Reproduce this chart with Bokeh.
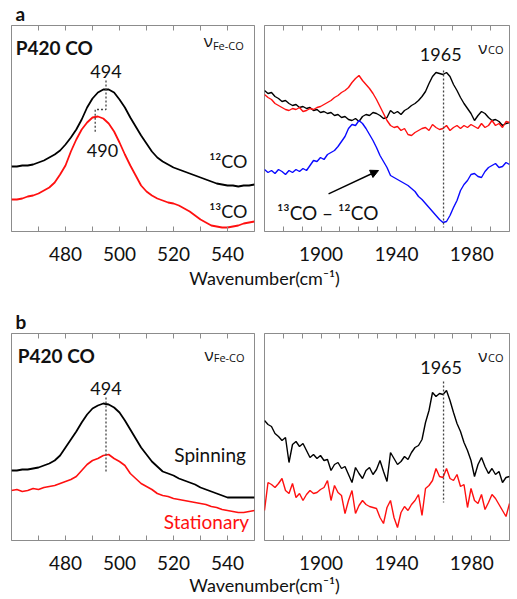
import numpy as np
from bokeh.plotting import figure
from bokeh.models import Range1d, FixedTicker, LinearAxis, Label, Arrow, NormalHead
from bokeh.layouts import column, row
from bokeh.embed import file_html
from bokeh.resources import INLINE

# ---------------- data ----------------
# Fe-CO region (cm-1), sampled every 2 cm-1
fe_wavenumber = list(range(460, 552, 2))
fe_12co = [65, 65, 66, 66, 67, 69, 71, 74, 77, 81,
           87, 94, 102, 112, 124, 133, 139, 142, 142, 139,
           132, 124, 114, 105, 96, 88, 80, 74, 70, 67,
           64, 62, 60, 58, 56, 54, 52, 50, 48, 47,
           46, 46, 45, 46, 46, 47]
fe_13co = [32, 32, 33, 35, 36, 38, 41, 44, 49, 57,
           66, 80, 92, 102, 109, 114, 115, 113, 108, 100,
           89, 77, 66, 56, 46, 40, 36, 33, 31, 29,
           28, 26, 23, 20, 16, 12, 9, 6, 5, 4,
           4, 5, 6, 8, 9, 10]
fe_spinning = [70, 70, 71, 71, 72, 73, 75, 77, 80, 85,
               93, 101, 109, 118, 126, 132, 135, 137, 136, 133,
               128, 120, 111, 102, 93, 86, 79, 74, 69, 67,
               65, 62, 60, 58, 56, 53, 51, 49, 47, 45,
               43, 43, 43, 43, 43, 43]
fe_stationary = [50, 51, 49, 50, 52, 51, 53, 54, 55, 57,
                 59, 61, 64, 70, 76, 80, 82, 85, 86, 82,
                 79, 75, 67, 62, 57, 54, 51, 47, 45, 44,
                 42, 41, 40, 39, 38, 37, 36, 34, 33, 31,
                 30, 29, 28, 28, 29, 30]

# C-O region (cm-1), 71 evenly spaced samples 1870-2000
co_wavenumber = np.linspace(1870, 2000, 71)
co_12co = [141, 138, 139, 135, 133, 130, 131, 128, 126, 127,
           124, 125, 123, 124, 121, 122, 119, 120, 118, 119,
           116, 117, 114, 115, 112, 111, 113, 110, 115, 117,
           116, 119, 118, 116, 113, 114, 121, 118, 120, 117,
           121, 123, 126, 128, 131, 135, 140, 148, 155, 159,
           158, 157, 159, 155, 147, 141, 134, 128, 123, 118,
           111, 116, 120, 118, 114, 111, 112, 110, 106, 108, 109]
co_13co = [137, 134, 132, 128, 126, 124, 122, 121, 123, 122,
           124, 120, 121, 123, 122, 124, 125, 127, 129, 131,
           134, 136, 139, 141, 144, 149, 153, 156, 151, 147,
           143, 138, 132, 125, 118, 111, 106, 104, 105, 101,
           103, 97, 96, 99, 101, 103, 104, 101, 107, 104,
           102, 103, 106, 101, 104, 106, 103, 106, 104, 107,
           105, 103, 108, 104, 106, 111, 106, 108, 104, 110, 109]
co_difference = [62, 59, 61, 58, 62, 60, 57, 61, 59, 62,
                 60, 63, 61, 66, 71, 70, 74, 72, 77, 79,
                 81, 85, 90, 95, 103, 107, 106, 111, 108, 103,
                 97, 91, 84, 76, 70, 64, 56, 54, 52, 50,
                 48, 46, 43, 40, 35, 32, 28, 24, 20, 16,
                 12, 9, 10, 16, 24, 31, 41, 47, 51, 57,
                 58, 55, 54, 60, 64, 66, 68, 64, 65, 69, 67]
co_spinning = [120, 116, 114, 107, 104, 100, 103, 78, 96, 99,
               94, 97, 90, 83, 86, 82, 85, 80, 81, 70,
               76, 78, 72, 74, 66, 58, 73, 67, 62, 70,
               73, 66, 71, 80, 69, 59, 88, 82, 76, 79,
               84, 81, 88, 93, 95, 101, 118, 130, 148, 144,
               147, 146, 150, 140, 128, 117, 109, 98, 90, 80,
               64, 76, 83, 74, 67, 72, 66, 69, 58, 63, 64]
co_stationary = [30, 58, 56, 53, 57, 62, 50, 47, 57, 43,
                 47, 40, 46, 50, 47, 48, 51, 53, 60, 40,
                 55, 48, 45, 27, 40, 50, 27, 35, 40, 36,
                 34, 33, 32, 23, 17, 33, 40, 23, 13, 28,
                 34, 30, 36, 40, 46, 25, 52, 55, 60, 72,
                 64, 63, 72, 62, 60, 66, 54, 56, 33, 52,
                 40, 37, 46, 31, 38, 46, 42, 36, 30, 24, 37]

# peak markers (dotted guide lines)
mark_a_fe_x = [495, 495, 491, 491]
mark_a_fe_y = [151, 122, 122, 98]
mark_a_co_x = [1965, 1965]
mark_a_co_y = [161, 4]
mark_b_fe_x = [495, 495]
mark_b_fe_y = [143, 68]
mark_b_co_x = [1965, 1965]
mark_b_co_y = [159, 38]

# ticks
fe_major = [480, 500, 520, 540]
fe_minor = [470, 490, 510, 530]
fe_top = [470, 480, 490, 500, 510, 520, 530, 540]
co_major = [1900, 1940, 1980]
co_minor = [1880, 1890, 1910, 1920, 1930, 1950, 1960, 1970, 1990]
co_top = [1880, 1890, 1900, 1910, 1920, 1930, 1940, 1950, 1960, 1970, 1980, 1990]

GREY = "#8c8c8c"
TXT = "#111111"
RED = "#ff1010"
BLUE = "#0a0aff"
FONT = "Lato"
W = 516


def panel(xr, ymax, major, minor, top, fw, fh, bl, br, bt, bb):
    p = figure(frame_width=fw, frame_height=fh,
               x_range=Range1d(*xr), y_range=Range1d(0, ymax),
               output_backend="svg", toolbar_location=None,
               x_axis_location=None, y_axis_location=None,
               min_border_left=bl, min_border_right=br,
               min_border_top=bt, min_border_bottom=bb)
    p.xgrid.visible = False
    p.ygrid.visible = False
    p.outline_line_color = GREY
    p.outline_line_width = 1
    p.background_fill_color = "white"
    p.border_fill_color = "white"
    bottom = LinearAxis(ticker=FixedTicker(ticks=major, minor_ticks=minor))
    topax = LinearAxis(ticker=FixedTicker(ticks=[], minor_ticks=top))
    for ax in (bottom, topax):
        ax.axis_line_color = GREY
        ax.major_tick_line_color = GREY
        ax.minor_tick_line_color = GREY
        ax.major_tick_in = 5
        ax.major_tick_out = 0
        ax.minor_tick_in = 5
        ax.minor_tick_out = 0
        ax.major_label_text_font = FONT
        ax.major_label_text_font_size = "19px"
        ax.major_label_text_color = TXT
    bottom.major_label_standoff = 15
    topax.major_label_standoff = 0
    p.add_layout(bottom, "below")
    p.add_layout(topax, "above")
    return p


def lab(p, x, y, text, size="18px", align="center", color=TXT, bold=False, font=FONT):
    p.add_layout(Label(x=x, y=y, text=text, text_font=font, text_font_size=size,
                       text_align=align, text_baseline="middle", text_color=color,
                       text_font_style="bold" if bold else "normal"))


def strip(h):
    s = figure(width=W, height=h, x_range=Range1d(0, W), y_range=Range1d(0, h),
               output_backend="svg", toolbar_location=None,
               x_axis_location=None, y_axis_location=None, min_border=0)
    s.xgrid.visible = False
    s.ygrid.visible = False
    s.outline_line_color = None
    return s


XLABEL = "Wavenumber(cm⁻¹)"

# ---------------- top strip with panel letter ----------------
strip0 = strip(24)
lab(strip0, 15, 11.5, "a", size="19px", align="left", bold=True)

# ---------------- panel a, Fe-CO ----------------
a1 = panel((460, 550), 206, fe_major, fe_minor, fe_top, 243, 206, 11, 4, 1, 35)
a1.line(fe_wavenumber, fe_12co, line_color="black", line_width=1.8)
a1.line(fe_wavenumber, fe_13co, line_color=RED, line_width=1.8)
a1.line(mark_a_fe_x, mark_a_fe_y, line_color="#444444", line_width=1.3, line_dash="2 2")
lab(a1, 461.6, 184, "P420 CO", size="19px", align="left", bold=True)
lab(a1, 531.2, 191, "ν", size="17px", align="left", font="Open Sans")
lab(a1, 534.6, 186, "Fe-CO", size="11px", align="left", font="Open Sans")
lab(a1, 495, 160, "494")
lab(a1, 493.7, 81, "490")
lab(a1, 547.4, 71, "¹²CO", align="right")
lab(a1, 547.4, 21, "¹³CO", align="right")

# ---------------- panel a, C-O ----------------
a2 = panel((1870, 2000), 206, co_major, co_minor, co_top, 245, 206, 6, 7, 1, 35)
a2.line(co_wavenumber, co_12co, line_color="black", line_width=1.4)
a2.line(co_wavenumber, co_13co, line_color=RED, line_width=1.4)
a2.line(co_wavenumber, co_difference, line_color=BLUE, line_width=1.4)
a2.line(mark_a_co_x, mark_a_co_y, line_color="#444444", line_width=1.3, line_dash="2 2")
lab(a2, 1983.4, 184, "ν", size="17px", align="left", font="Open Sans")
lab(a2, 1988.6, 182.5, "CO", size="11px", align="left", font="Open Sans")
lab(a2, 1963.5, 177.3, "1965")
lab(a2, 1903.5, 19.3, "¹³CO – ¹²CO", size="19px")
a2.add_layout(Arrow(end=NormalHead(size=8, fill_color="black", line_color="black"),
                    x_start=1904, y_start=37.7, x_end=1930.5, y_end=61,
                    line_color="black", line_width=1.4))

# ---------------- strip between rows: axis title of a, letter b ----------------
stripA = strip(66)
lab(stripA, 264, 54.5, XLABEL)
lab(stripA, 15, 11.5, "b", size="19px", align="left", bold=True)

# ---------------- panel b, Fe-CO ----------------
b1 = panel((460, 550), 207, fe_major, fe_minor, fe_top, 243, 207, 11, 4, 1, 35)
b1.line(fe_wavenumber, fe_spinning, line_color="black", line_width=1.8)
b1.line(fe_wavenumber, fe_stationary, line_color=RED, line_width=1.6)
b1.line(mark_b_fe_x, mark_b_fe_y, line_color="#444444", line_width=1.3, line_dash="2 2")
lab(b1, 462.3, 185, "P420 CO", size="19px", align="left", bold=True)
lab(b1, 531.5, 186, "ν", size="17px", align="left", font="Open Sans")
lab(b1, 534.9, 183, "Fe-CO", size="11px", align="left", font="Open Sans")
lab(b1, 495, 151.7, "494")
lab(b1, 546.8, 86.5, "Spinning", size="19px", align="right")
lab(b1, 548, 19.3, "Stationary", size="19px", align="right", color=RED)

# ---------------- panel b, C-O ----------------
b2 = panel((1870, 2000), 207, co_major, co_minor, co_top, 245, 207, 6, 7, 1, 35)
b2.line(co_wavenumber, co_spinning, line_color="black", line_width=1.4)
b2.line(co_wavenumber, co_stationary, line_color=RED, line_width=1.4)
b2.line(mark_b_co_x, mark_b_co_y, line_color="#444444", line_width=1.3, line_dash="2 2")
lab(b2, 1983.4, 185.5, "ν", size="17px", align="left", font="Open Sans")
lab(b2, 1988.6, 182.7, "CO", size="11px", align="left", font="Open Sans")
lab(b2, 1963.7, 173.3, "1965")

# ---------------- bottom strip: axis title of b ----------------
stripB = strip(23)
lab(stripB, 264, 13.5, XLABEL)

layout = column(strip0, row(a1, a2), stripA, row(b1, b2), stripB)
open("out.html", "w").write(file_html(layout, INLINE))
